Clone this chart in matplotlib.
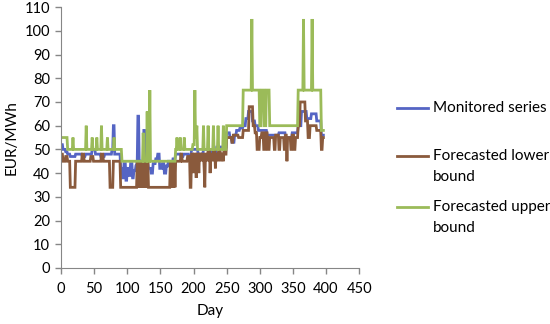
import numpy as np
import matplotlib
matplotlib.use("Agg")
import matplotlib.pyplot as plt
from matplotlib.lines import Line2D

# run-length data: (number of days, value in EUR/MWh)
monitored_runs = [
    (3, 52), (4, 50), (3, 49), (4, 48), (8, 47),
    (10, 48), (5, 47), (10, 48), (5, 50), (8, 48), (6, 47), (8, 48),
    (3, 48), (2, 50), (2, 60), (9, 48),
    (3, 42), (2, 38), (3, 44), (2, 37), (3, 42), (2, 39), (3, 44), (2, 38), (3, 41), (2, 43),
    (1, 45), (2, 64), (3, 45), (2, 40), (2, 44), (2, 58), (3, 42), (2, 44),
    (4, 42), (3, 40), (4, 44), (3, 46), (3, 48), (4, 42), (3, 44), (3, 40), (3, 43), (3, 45),
    (4, 44), (4, 46),
    (8, 48), (4, 47), (8, 48), (4, 47),
    (10, 50), (8, 48), (10, 50), (10, 49), (15, 51),
    (5, 57), (3, 55), (4, 53), (3, 56), (5, 58), (5, 59),
    (4, 60), (4, 63), (6, 66), (4, 62),
    (5, 60), (5, 58),
    (8, 58), (8, 56),
    (10, 56), (10, 57), (10, 55), (9, 57),
    (5, 60), (8, 66), (7, 63), (8, 65), (7, 62),
    (4, 56),
]

lower_runs = [
    (3, 48), (4, 45), (3, 47), (4, 45), (8, 34),
    (10, 45), (3, 48), (10, 45), (4, 47), (12, 45), (3, 48), (10, 45),
    (5, 34), (11, 45), (25, 34),
    (1, 45), (1, 34), (1, 45), (1, 34), (1, 45), (1, 34), (1, 45), (1, 34), (1, 45),
    (1, 34), (1, 45), (1, 34), (1, 45), (1, 34), (1, 45), (1, 34), (1, 45),
    (33, 34),
    (1, 45), (1, 34), (1, 45), (1, 34), (1, 45), (1, 34), (1, 45), (1, 34),
    (8, 45), (2, 48), (8, 45), (4, 47), (2, 34),
    (3, 48), (1, 40), (3, 48), (1, 38), (3, 48), (1, 40), (3, 48), (1, 45), (3, 48), (1, 42),
    (1, 34),
    (3, 48), (1, 45), (3, 50), (1, 40), (3, 48), (1, 45), (3, 50), (1, 42),
    (3, 48), (1, 45), (3, 50), (1, 45), (3, 48), (1, 45), (2, 50), (2, 48),
    (8, 55), (2, 53), (8, 56), (7, 55),
    (9, 58), (6, 68), (3, 60),
    (3, 57), (4, 50), (3, 55),
    (3, 57), (3, 50), (3, 57), (3, 50), (4, 55),
    (3, 55), (2, 50), (5, 56), (2, 50), (6, 55), (2, 50), (2, 56), (1, 45),
    (5, 55), (2, 50), (3, 56), (2, 50), (4, 55),
    (3, 60), (8, 70), (4, 62), (3, 55), (10, 60), (7, 58),
    (2, 50), (2, 55),
]

upper_runs = [
    (10, 55),
    (8, 50), (1, 55), (19, 50), (1, 60), (8, 50), (1, 55), (6, 50), (1, 55),
    (6, 50), (1, 60), (8, 50), (1, 55), (9, 50), (1, 55), (11, 50),
    (32, 45), (1, 57), (5, 45), (1, 66), (3, 45), (1, 75), (38, 45),
    (2, 50), (1, 55), (4, 50), (1, 55), (5, 50), (1, 55), (12, 50),
    (3, 52), (1, 75), (2, 55),
    (1, 60), (9, 50), (1, 60), (6, 50), (1, 60), (7, 50), (1, 60), (6, 50),
    (1, 60), (7, 50), (1, 60), (4, 50),
    (25, 60),
    (13, 75), (1, 105), (11, 75),
    (3, 60), (4, 75), (3, 60), (5, 75), (4, 60),
    (39, 60),
    (8, 75), (1, 105), (12, 75), (1, 105), (13, 75),
    (4, 58),
]

series_names = [["Monitored series"], ["Forecasted lower", "bound"], ["Forecasted upper", "bound"]]
series_colors = ["#5565c4", "#8a5a3c", "#9bbb59"]


def expand(runs):
    lengths = [r[0] for r in runs]
    values = [r[1] for r in runs]
    return np.repeat(values, lengths)


series = [expand(monitored_runs), expand(lower_runs), expand(upper_runs)]

plt.rcParams["font.family"] = ["Lato", "DejaVu Sans"]
fig = plt.figure(figsize=(5.5, 3.24), dpi=100)
ax = fig.add_axes([0.111, 0.173, 0.542, 0.805])

for vals, col in zip(series, series_colors):
    ax.plot(np.arange(len(vals)), vals, color=col, lw=2, solid_joinstyle="miter")

ax.set_xlim(0, 450)
ax.set_ylim(0, 110)
ax.set_xticks(np.arange(0, 451, 50))
ax.set_yticks(np.arange(0, 111, 10))
ax.tick_params(axis="both", labelsize=10.5, color="#868686", length=4, width=1, pad=4)
ax.tick_params(axis="x", pad=6)
for side in ["top", "right"]:
    ax.spines[side].set_visible(False)
for side in ["left", "bottom"]:
    ax.spines[side].set_color("#868686")
ax.set_xlabel("Day", fontsize=11, labelpad=6)
ax.set_ylabel("EUR/MWh", fontsize=11, labelpad=4)

# legend drawn by hand, Excel style (handle next to first text line)
legend_y = [108, 156, 207]
for lines, col, y in zip(series_names, series_colors, legend_y):
    fy = 1 - y / 324
    fig.add_artist(Line2D([397 / 550, 428 / 550], [fy, fy], color=col, lw=2,
                          transform=fig.transFigure))
    for i, txt in enumerate(lines):
        fig.text(433 / 550, 1 - (y + 21 * i) / 324, txt, fontsize=11,
                 va="center", ha="left")

fig.savefig("out.png", dpi=100)
